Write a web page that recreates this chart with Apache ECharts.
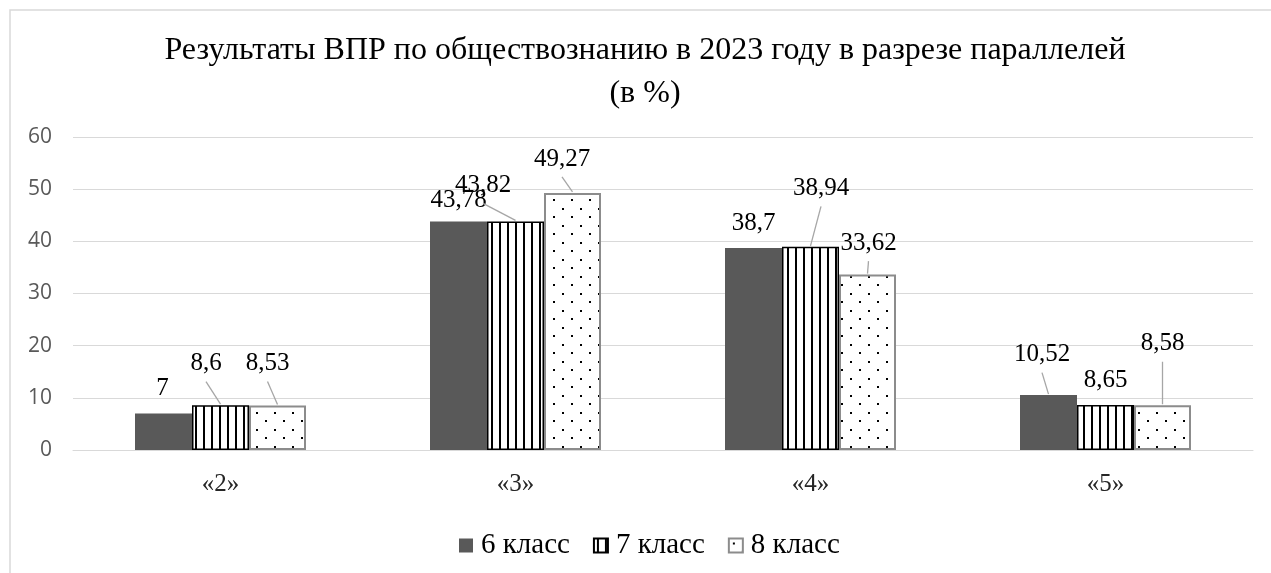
<!DOCTYPE html>
<html>
<head>
<meta charset="utf-8">
<script src="https://cdn.jsdelivr.net/npm/echarts@6/dist/echarts.min.js"></script>
<style>
  html, body { margin: 0; padding: 0; background: #fff; }
  #chart { width: 1271px; height: 573px; }
</style>
</head>
<body>
<div id="chart"></div>
<script>
// данные диаграммы
const categories = ['«2»', '«3»', '«4»', '«5»']
const seriesNames = ['6 класс', '7 класс', '8 класс']
const grade6 = [7, 43.78, 38.7, 10.52]
const grade7 = [8.6, 43.82, 38.94, 8.65]
const grade8 = [8.53, 49.27, 33.62, 8.58]
const yTicks = { min: 0, max: 60, interval: 10 }

// сдвиги подписей (dx, dy) относительно стандартного положения над столбцом
const labelShift = [
    [[-1, -8], [0, -4], [0, -7], [-6.5, -23]],
    [[-14.5, -24], [-32.5, -18.5], [10.5, -41], [0, -7]],
    [[-10, -24.5], [-10.5, -16.5], [1, -14], [0, -44]]
]
// у каких подписей нет выноски
const noLine = [[0, 1, 2], [3], []]

const BAR_W = 57
const LABEL_DIST = 5
const LABEL_HALF = 12

// штриховка для 7 класса
function stripes() {
    const c = document.createElement('canvas')
    c.width = 8; c.height = 8
    const ctx = c.getContext('2d')
    ctx.fillStyle = '#fff'
    ctx.fillRect(0, 0, 8, 8)
    ctx.fillStyle = '#000'
    ctx.fillRect(3, 0, 2, 8)
    return c
}
// точки для 8 класса
function dots() {
    const c = document.createElement('canvas')
    c.width = 18; c.height = 17
    const ctx = c.getContext('2d')
    ctx.fillStyle = '#fff'
    ctx.fillRect(0, 0, 18, 17)
    ctx.fillStyle = '#000'
    ctx.fillRect(4, 4, 2, 2)
    ctx.fillRect(13, 12, 2, 2)
    return c
}

const serif = '"Liberation Serif", "Times New Roman", serif'
const allValues = [grade6, grade7, grade8]

const styles = [
    { color: '#595959' },
    { color: { image: stripes(), repeat: 'repeat' }, borderColor: '#000', borderWidth: 1.5 },
    { color: { image: dots(), repeat: 'repeat' }, borderColor: '#8c8c8c', borderWidth: 2 }
]

// точки для выносок: [категория, значение, ряд]
let leaderData = []
allValues.forEach((vals, si) => {
    vals.forEach((v, i) => {
        if (noLine[si].indexOf(i) < 0) leaderData.push([i, v, si])
    })
})

const barSeries = allValues.map((vals, si) => ({
    name: seriesNames[si],
    type: 'bar',
    barWidth: BAR_W,
    barGap: '0%',
    data: vals,
    itemStyle: styles[si],
    label: {
        show: true,
        position: 'top',
        distance: LABEL_DIST,
        fontFamily: serif,
        fontSize: 25,
        color: '#000',
        formatter: p => String(p.value).replace('.', ',')
    },
    labelLayout: p => {
        const s = labelShift[p.seriesIndex][p.dataIndex]
        return { dx: s[0], dy: s[1] }
    }
}))

// выноски от подписи к середине верха столбца
const leaderSeries = {
    type: 'custom',
    silent: true,
    z: 5,
    data: leaderData,
    renderItem: (params, api) => {
        const si = api.value(2)
        const cat = api.value(0)
        const top = api.coord([cat, api.value(1)])
        const bx = top[0] + (si - 1) * BAR_W
        const s = labelShift[si][cat]
        const ly = top[1] - LABEL_DIST - LABEL_HALF + s[1]
        return {
            type: 'line',
            shape: { x1: bx + s[0], y1: ly + 17.5, x2: bx, y2: top[1] - 1 },
            style: { stroke: '#a6a6a6', lineWidth: 1.3 }
        }
    }
}

const chart = echarts.init(document.getElementById('chart'))
const option = {
    animation: false,
    backgroundColor: '#fff',
    graphic: [{
        type: 'rect',
        shape: { x: 10, y: 10, width: 1400, height: 700 },
        style: { fill: 'none', stroke: '#d9d9d9', lineWidth: 1.5 },
        silent: true
    }],
    title: {
        text: 'Результаты ВПР по обществознанию в 2023 году в разрезе параллелей\n(в %)',
        left: 640,
        textAlign: 'center',
        top: 24,
        textStyle: {
            fontFamily: serif,
            fontSize: 32,
            fontWeight: 'normal',
            color: '#000',
            lineHeight: 43
        }
    },
    legend: {
        bottom: 8,
        left: 454,
        icon: 'rect',
        itemWidth: 14,
        itemHeight: 14,
        itemGap: 23,
        textStyle: { fontFamily: serif, fontSize: 29, color: '#000', padding: [0, 0, 0, 3] },
        data: seriesNames
    },
    grid: { left: 73, right: 18, top: 137, bottom: 123 },
    xAxis: {
        type: 'category',
        data: categories,
        axisTick: { show: false },
        axisLine: { lineStyle: { color: '#d9d9d9', width: 1 } },
        axisLabel: { margin: 22, fontFamily: serif, fontSize: 25, color: '#262626' }
    },
    yAxis: {
        type: 'value',
        min: yTicks.min,
        max: yTicks.max,
        interval: yTicks.interval,
        axisLabel: { margin: 21, fontFamily: '"Open Sans", sans-serif', fontSize: 21, color: '#595959' },
        splitLine: { lineStyle: { color: '#d9d9d9', width: 1 } }
    },
    series: barSeries.concat([leaderSeries])
}
chart.setOption(option)
</script>
</body>
</html>
